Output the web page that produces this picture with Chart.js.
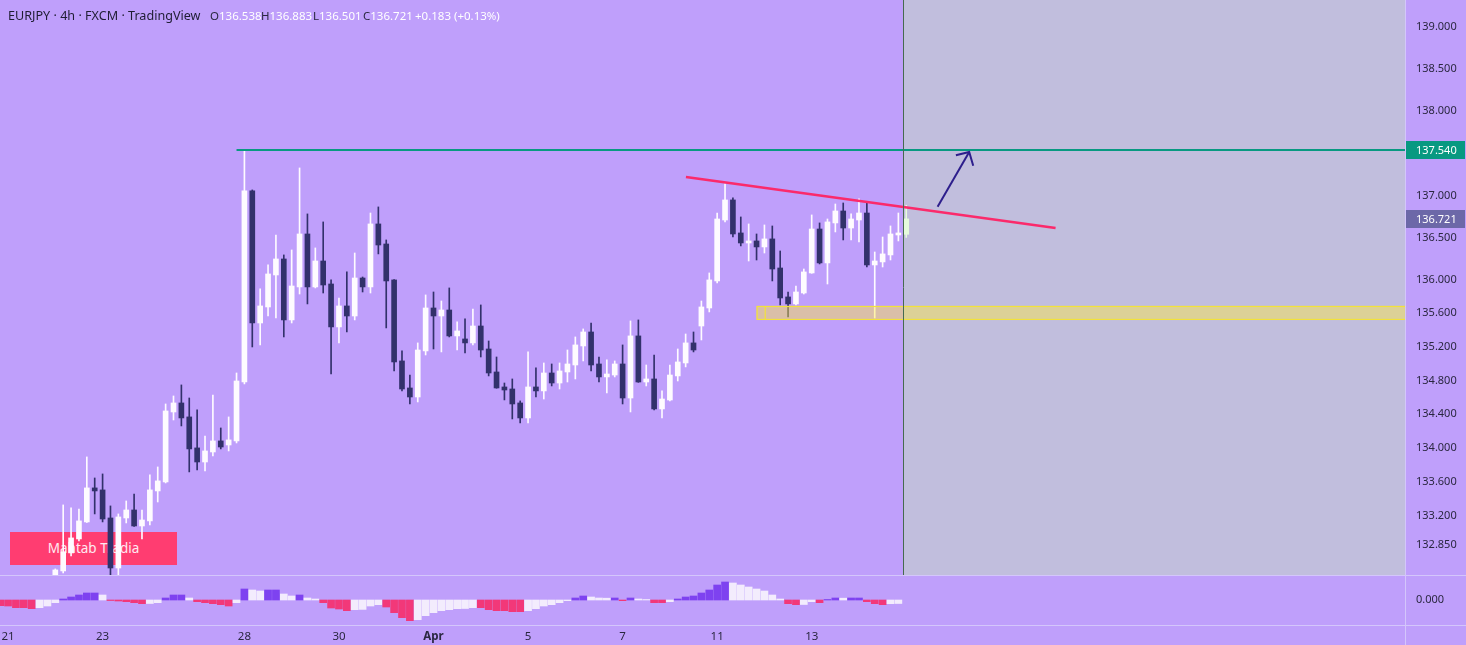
<!DOCTYPE html>
<html>
<head>
<meta charset="utf-8">
<script src="https://cdn.jsdelivr.net/npm/chart.js@4.4.1/dist/chart.umd.min.js"></script>
<style>
  html, body { margin: 0; padding: 0; background: #bf9ffb; width: 1466px; height: 645px; overflow: hidden; font-family: "Noto Sans", sans-serif; }
  #wrap { position: relative; width: 1466px; height: 645px; }
  canvas { position: absolute; left: 0; z-index: 1; }
  #price { top: 0; }
  #ind { top: 575px; }
  .hdr { position: absolute; top: 7px; line-height: 18px; font-size: 12.6px; color: #1f1d33; white-space: nowrap; z-index: 3; }
  .ohlc { position: absolute; top: 7px; line-height: 18px; font-size: 11.5px; color: #ffffff; white-space: nowrap; z-index: 3; }
  .ohlc b { font-weight: normal; color: #2a2840; }
  .sep { position: absolute; background: #d4c6fb; z-index: 2; }
  #badge { position: absolute; left: 10px; top: 532px; width: 167px; height: 33px; background: #ff3d71; color: #ffe9f1;
           font-size: 13.5px; line-height: 33px; text-align: center; z-index: 0; }
</style>
</head>
<body>
<div id="wrap">
  <div id="badge">Mahtab Tradia</div>
  <canvas id="price" width="1466" height="575"></canvas>
  <canvas id="ind" width="1466" height="70"></canvas>
  <div class="hdr" style="left:8px">EURJPY · 4h · FXCM · TradingView</div>
  <div class="ohlc" style="left:210px"><b>O</b>136.538</div>
  <div class="ohlc" style="left:261px"><b>H</b>136.883</div>
  <div class="ohlc" style="left:313px"><b>L</b>136.501</div>
  <div class="ohlc" style="left:363px"><b>C</b>136.721</div>
  <div class="ohlc" style="left:415px">+0.183 (+0.13%)</div>
  <div class="sep" style="left:0;top:575px;width:1466px;height:1px"></div>
  <div class="sep" style="left:0;top:625px;width:1466px;height:1px"></div>
  <div class="sep" style="left:1405px;top:0;width:1px;height:645px"></div>
</div>
<script>
// EURJPY 4h candles, index 0 = first visible candle (Mar 22)
const opens = [
  132.48, 132.540, 132.754, 132.920, 133.122, 133.526, 133.502, 133.169, 132.575, 133.169,
  133.264, 133.074, 133.134, 133.490, 133.597, 134.428, 134.535, 134.369, 134.001, 133.834,
  133.953, 134.084, 134.036, 134.084, 134.784, 137.053, 135.485, 135.675, 136.055, 136.245,
  135.521, 135.913, 136.542, 135.913, 136.221, 135.948, 135.438, 135.687, 135.568, 136.019,
  135.913, 136.661, 136.423, 135.996, 135.034, 134.713, 134.606, 135.153, 135.663, 135.568,
  135.639, 135.331, 135.295, 135.248, 135.449, 135.176, 134.903, 134.725, 134.701, 134.535,
  134.357, 134.725, 134.678, 134.891, 134.772, 134.903, 134.986, 135.212, 135.378, 134.998,
  134.844, 134.867, 134.998, 134.594, 135.331, 134.784, 134.820, 134.464, 134.570, 134.856,
  135.010, 135.248, 135.449, 135.663, 135.984, 136.708, 136.946, 136.554, 136.435, 136.459,
  136.388, 136.483, 136.138, 135.794, 135.711, 135.841, 136.079, 136.601, 136.198, 136.673,
  136.815, 136.613, 136.708, 136.791, 136.174, 136.210, 136.293, 136.530, 136.538
];
const highs = [
  132.564, 133.324, 133.288, 133.276, 133.894, 133.644, 133.692, 133.312, 133.217, 133.371,
  133.454, 133.264, 133.680, 133.775, 134.523, 134.618, 134.749, 134.594, 134.452, 134.143,
  134.630, 134.238, 134.369, 134.891, 137.540, 137.065, 135.889, 136.174, 136.530, 136.293,
  136.352, 137.326, 136.780, 136.376, 136.685, 135.996, 135.782, 136.091, 136.316, 136.031,
  136.791, 136.863, 136.471, 136.000, 135.153, 134.867, 135.248, 135.818, 135.853, 135.746,
  135.901, 135.497, 135.533, 135.651, 135.699, 135.271, 135.081, 134.772, 134.820, 134.559,
  135.141, 134.951, 135.010, 134.998, 135.010, 135.164, 135.319, 135.414, 135.485, 135.081,
  135.046, 135.034, 135.224, 135.509, 135.521, 134.986, 135.105, 134.678, 134.986, 135.176,
  135.354, 135.378, 135.746, 136.079, 136.791, 137.136, 136.970, 136.744, 136.661, 136.542,
  136.649, 136.637, 136.340, 135.853, 135.924, 136.126, 136.768, 136.673, 136.720, 136.898,
  136.910, 136.780, 136.958, 136.910, 136.328, 136.506, 136.637, 136.791, 136.883
];
const lows = [
  132.45, 132.516, 132.718, 132.896, 133.115, 133.217, 133.122, 132.469, 132.469, 133.110,
  133.07, 132.920, 133.086, 133.359, 133.585, 134.333, 134.262, 133.716, 133.739, 133.727,
  133.906, 133.989, 133.965, 134.060, 134.761, 135.200, 135.224, 135.568, 135.544, 135.319,
  135.485, 135.829, 135.711, 135.901, 135.841, 134.879, 135.248, 135.378, 135.521, 135.853,
  135.841, 136.305, 135.426, 134.915, 134.678, 134.523, 134.547, 135.105, 135.176, 135.141,
  135.319, 135.164, 135.129, 135.224, 135.081, 134.856, 134.71, 134.571, 134.345, 134.298,
  134.298, 134.606, 134.582, 134.737, 134.701, 134.784, 134.820, 135.034, 134.915, 134.784,
  134.654, 134.844, 134.523, 134.428, 134.78, 134.737, 134.452, 134.357, 134.559, 134.796,
  134.963, 135.141, 135.283, 135.616, 135.960, 136.685, 136.506, 136.400, 136.221, 136.233,
  136.316, 135.984, 135.699, 135.556, 135.699, 135.829, 136.075, 136.186, 135.948, 136.566,
  136.471, 136.471, 136.447, 136.150, 135.544, 136.150, 136.233, 136.459, 136.501
];
const closes = [
  132.552, 132.765, 132.932, 133.134, 133.526, 133.490, 133.157, 132.575, 133.181, 133.264,
  133.074, 133.145, 133.502, 133.609, 134.440, 134.535, 134.357, 133.989, 133.834, 133.965,
  134.084, 134.012, 134.096, 134.796, 137.053, 135.485, 135.687, 136.067, 136.245, 135.521,
  135.924, 136.542, 135.913, 136.221, 135.936, 135.438, 135.687, 135.568, 136.019, 135.913,
  136.661, 136.411, 135.984, 135.022, 134.701, 134.606, 135.164, 135.663, 135.568, 135.639,
  135.331, 135.390, 135.248, 135.449, 135.164, 134.891, 134.713, 134.689, 134.523, 134.357,
  134.725, 134.678, 134.891, 134.772, 134.915, 134.998, 135.224, 135.378, 134.986, 134.844,
  134.879, 134.998, 134.594, 135.331, 134.784, 134.820, 134.464, 134.582, 134.867, 135.022,
  135.248, 135.164, 135.675, 135.996, 136.720, 136.946, 136.542, 136.435, 136.459, 136.388,
  136.483, 136.126, 135.782, 135.711, 135.853, 136.091, 136.601, 136.198, 136.685, 136.815,
  136.613, 136.720, 136.791, 136.174, 136.221, 136.305, 136.542, 136.554, 136.721
];

// MACD histogram, first value belongs to candle index -7
const histStart = -7;
const histValues = [
  -5.7, -6, -7.7, -7.7, -8.7, -7.7, -6, -2.7,
  1, 3, 5, 7, 7, 5, -0.5, -1, -1.7, -2.7,
  -3.7, -3.5, -2.7, 2, 5, 5, 2, -1.7, -2.7, -3.7,
  -4.7, -6, -2.7, 11, 10, 9, 10, 10, 6, 4,
  5, 2, 1, -2.7, -8, -9, -10.7, -9.7, -9.4, -6,
  -4.7, -7, -12.7, -17.7, -20.7, -19.7, -15.7, -12.7, -10.7, -9.7,
  -8.7, -8.5, -7.7, -7.7, -9.7, -10.7, -10.7, -11.7, -11.7, -10.7,
  -8.7, -6, -4.7, -2.7, -0.7, 2, 4, 3, 2, 1.8,
  2, -0.7, 2, 1, 0.5, -2.7, -2.7, -1.7, 1, 3,
  4, 7, 10, 15, 18, 17, 15, 13, 11, 9,
  5, 1, -3.7, -4.7, -4.5, -1.7, -2.7, 0.5, 2, 1.8,
  2, 2, -1.7, -3.7, -4.7, -3.7, -3.5
];

// axis ticks
const priceTicks = [139, 138.5, 138, 137, 136.5, 136, 135.6, 135.2, 134.8, 134.4, 134, 133.6, 133.2, 132.85];
const dayTickIdx = [-6, 6, 24, 36, 48, 60, 72, 84, 96];
const dayTickLabels = ['21', '23', '28', '30', 'Apr', '5', '7', '11', '13'];

// drawings (candle index / price)
const resistance = [{ x: 23, y: 137.54 }, { x: 171.3, y: 137.54 }];
const trendLine = [{ x: 80.04, y: 137.219 }, { x: 126.95, y: 136.613 }];
const arrowShaft = [{ x: 111.98, y: 136.866 }, { x: 115.99, y: 137.516 }];
const arrowHead = [{ x: 114.3, y: 137.477 }, { x: 115.99, y: 137.516 }, { x: 116.5, y: 137.353 }];
const zone = { from: 89.0, mark: 90.1, top: 135.687, bottom: 135.533 };
const futureFrom = 107.6;
const lastPrice = 136.721;
const resistancePrice = 137.54;

const X_MIN = -7.02, X_MAX = 171.3;
const AXIS_W = 61;
const UP = '#fefbff', DOWN = '#32316b', LAST = '#e6fbdc';
const TICK_COLOR = '#2a2740';
Chart.defaults.font.family = '"Noto Sans", sans-serif';

const candleColor = opens.map((o, i) => i === opens.length - 1 ? LAST : (closes[i] >= o ? UP : DOWN));

const fixY = (s) => { s.width = AXIS_W; s.paddingTop = 0; s.paddingBottom = 0; };

const overlays = {
  id: 'overlays',
  beforeDatasetsDraw(chart) {
    const { ctx, chartArea: a, scales: { x } } = chart;
    const gx = x.getPixelForValue(futureFrom);
    ctx.save();
    ctx.fillStyle = '#c1bedd';
    ctx.fillRect(gx, a.top, a.right - gx, a.bottom - a.top);
    ctx.restore();
  },
  afterDatasetsDraw(chart) {
    const { ctx, chartArea: a, scales: { x, y } } = chart;
    const x0 = x.getPixelForValue(zone.from);
    const y0 = y.getPixelForValue(zone.top), y1 = y.getPixelForValue(zone.bottom);
    ctx.save();
    ctx.fillStyle = 'rgba(255, 235, 59, 0.43)';
    ctx.fillRect(x0, y0, a.right - x0, y1 - y0);
    ctx.strokeStyle = '#f3e23a';
    ctx.lineWidth = 1.2;
    ctx.strokeRect(x0 + 0.5, y0 + 0.5, a.right - x0, y1 - y0);
    const xm = x.getPixelForValue(zone.mark);
    ctx.beginPath(); ctx.moveTo(xm, y0); ctx.lineTo(xm, y1); ctx.stroke();
    // vertical separator of the future area
    const gx = Math.round(x.getPixelForValue(futureFrom)) + 0.5;
    ctx.strokeStyle = '#466a4e';
    ctx.lineWidth = 1;
    ctx.beginPath(); ctx.moveTo(gx, a.top); ctx.lineTo(gx, a.bottom); ctx.stroke();
    ctx.restore();
  },
  afterDraw(chart) {
    const { ctx, chartArea: a, scales: { y } } = chart;
    const tag = (val, bg) => {
      const py = Math.round(y.getPixelForValue(val));
      ctx.fillStyle = bg;
      ctx.fillRect(a.right + 1, py - 9, AXIS_W - 2, 18);
      ctx.fillStyle = '#ffffff';
      ctx.font = '11px "Noto Sans", sans-serif';
      ctx.textBaseline = 'middle';
      ctx.textAlign = 'left';
      ctx.fillText(val.toFixed(3), a.right + 11, py + 0.5);
    };
    ctx.save();
    tag(resistancePrice, '#089981');
    tag(lastPrice, '#6c68a8');
    ctx.restore();
  }
};

new Chart(document.getElementById('price'), {
  type: 'bar',
  data: {
    datasets: [
      { type: 'line', data: arrowShaft, borderColor: '#2d1e8c', borderWidth: 2, pointRadius: 0, order: -3 },
      { type: 'line', data: arrowHead, borderColor: '#2d1e8c', borderWidth: 2, pointRadius: 0, order: -3 },
      { type: 'line', data: trendLine, borderColor: '#fb2a6b', borderWidth: 2.5, pointRadius: 0, order: -2 },
      { type: 'line', data: resistance, borderColor: '#089981', borderWidth: 2, pointRadius: 0, order: -1 },
      { data: opens.map((o, i) => ({ x: i, y: [o, closes[i]] })), backgroundColor: candleColor,
        barThickness: 5, minBarLength: 1, grouped: false, order: 0 },
      { data: lows.map((l, i) => ({ x: i, y: [l, highs[i]] })), backgroundColor: candleColor,
        barThickness: 1, grouped: false, order: 1 }
    ]
  },
  options: {
    responsive: false, animation: false,
    layout: { padding: 0 },
    plugins: { legend: { display: false }, tooltip: { enabled: false } },
    scales: {
      x: { type: 'linear', min: X_MIN, max: X_MAX, offset: false, display: false },
      y: {
        type: 'linear', position: 'right', min: 132.4917, max: 139.3207,
        grid: { display: false, drawTicks: false }, border: { display: false },
        afterBuildTicks: (s) => { s.ticks = priceTicks.map(v => ({ value: v })); },
        afterFit: fixY,
        ticks: { color: TICK_COLOR, font: { size: 11 }, padding: 11, callback: (v) => Number(v).toFixed(3) }
      }
    }
  },
  plugins: [overlays]
});

const PURPLE = '#7e42f0', LIGHT = '#f3ecfd', PINK = '#f23879';
const histColor = histValues.map((v, i) => {
  const p = i > 0 ? histValues[i - 1] : v;
  if (v >= 0) return v >= p ? PURPLE : LIGHT;
  return v <= p ? PINK : LIGHT;
});

new Chart(document.getElementById('ind'), {
  type: 'bar',
  data: {
    datasets: [{
      data: histValues.map((v, i) => ({ x: i + histStart, y: v })),
      backgroundColor: histColor, barThickness: 7, grouped: false
    }]
  },
  options: {
    responsive: false, animation: false,
    layout: { padding: { top: 1, left: 0, right: 0, bottom: 0 } },
    plugins: { legend: { display: false }, tooltip: { enabled: false } },
    scales: {
      x: {
        type: 'linear', min: X_MIN, max: X_MAX, offset: false,
        grid: { display: false, drawTicks: false }, border: { display: false },
        afterBuildTicks: (s) => { s.ticks = dayTickIdx.map(v => ({ value: v })); },
        afterFit: (s) => { s.height = 20; s.paddingLeft = 0; s.paddingRight = 0; },
        ticks: {
          autoSkip: false, maxRotation: 0, padding: 5, color: TICK_COLOR,
          font: (c) => ({ size: 11.5, weight: c.tick && c.tick.label === 'Apr' ? 'bold' : 'normal' }),
          callback: (v) => { const k = dayTickIdx.indexOf(v); return k >= 0 ? dayTickLabels[k] : ''; }
        }
      },
      y: {
        type: 'linear', position: 'right', min: -25, max: 24,
        grid: { display: false, drawTicks: false }, border: { display: false },
        afterBuildTicks: (s) => { s.ticks = [{ value: 0 }]; },
        afterFit: fixY,
        ticks: { color: TICK_COLOR, font: { size: 11 }, padding: 11, callback: (v) => Number(v).toFixed(3) }
      }
    }
  }
});
</script>
</body>
</html>
